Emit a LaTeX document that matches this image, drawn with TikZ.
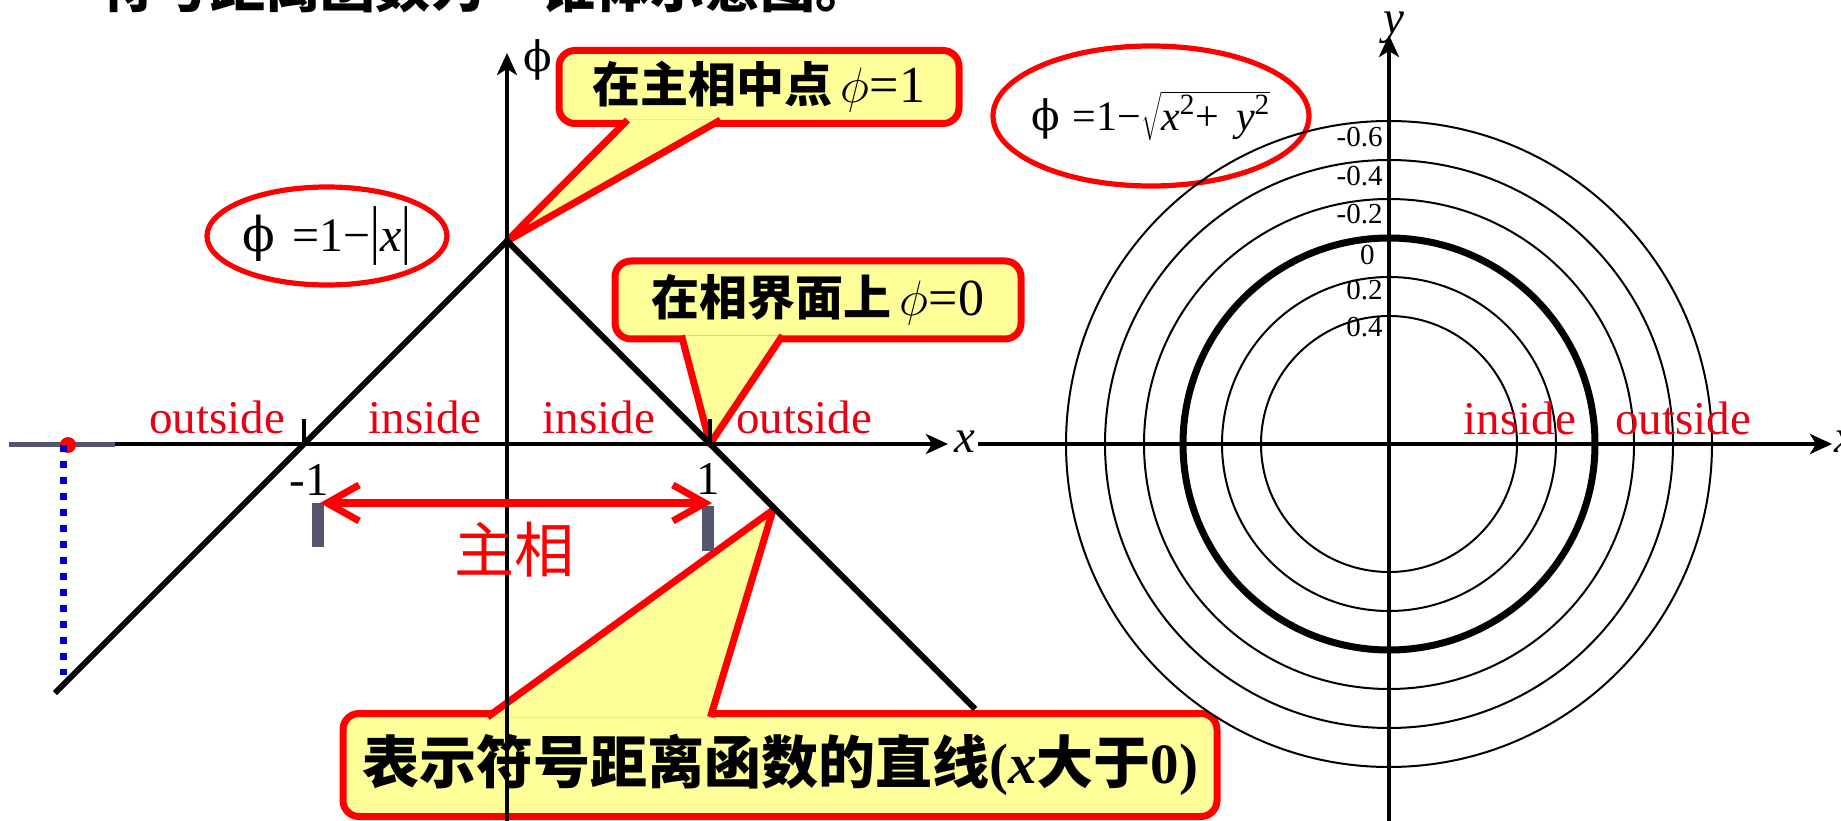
\documentclass[tikz,border=0pt]{standalone}
\usepackage{fontspec}
\usepackage{graphicx}
\setmainfont{Liberation Serif}
\newfontfamily\cjk{Noto Sans CJK SC}
\newfontfamily\grk{DejaVu Serif}
\usetikzlibrary{arrows.meta,positioning,calc}
\definecolor{sdfRed}{HTML}{FF0000}
\definecolor{sdfText}{HTML}{E60012}
\definecolor{sdfYellow}{HTML}{FFFF99}
\definecolor{sdfSlate}{HTML}{55556E}
\definecolor{sdfBlue}{HTML}{0000CC}
\newcommand{\fsz}[1]{\fontsize{#1}{#1}\selectfont}
\newcommand{\uphi}{{\grk ϕ}}
\tikzset{
  % Callout box: pale yellow with a heavy red rim.
  sdf/callout/.style={
    draw=sdfRed, fill=sdfYellow, line width=3.5pt, rounded corners=8pt,
    inner sep=0pt, align=center, text=black
  },
  % Callout pointer: only its two sides get stroked, the fill hides the rim.
  sdf/pointer/.style={
    draw=sdfRed, fill=sdfYellow, line width=3.5pt, line join=round
  },
  % Red ring round a formula.
  sdf/ring/.style={draw=sdfRed, line width=2.6pt},
  % inside / outside
  sdf/region/.style={text=sdfText, inner sep=0pt, font=\fsz{23.5pt}},
  % Axes.
  sdf/axis/.style={
    -{Stealth[length=11pt,width=10pt,inset=3pt]}, line width=2.2pt
  },
  sdf/level/.style={line width=1pt},
}

\begin{document}
\begin{tikzpicture}[x=0.5pt,y=0.5pt,
  lbl/.style={inner sep=0pt, anchor=east, font=\fsz{14.5pt}},
  txt/.style={inner sep=0pt, font=\fsz{23.5pt}},
  tick/.style={line width=2pt},
  bar/.style={draw=sdfSlate, line width=6pt}]
  \path[use as bounding box, clip] (0,0) rectangle (1841,820);

  % title, runs off the top edge
  \node[anchor=base west, inner sep=0pt, font=\cjk\bfseries\fsz{27.5pt}] (title) at (100,812)
       {符号距离函数为一锥体示意图。};

  % formulas in red rings
  \node[inner sep=0pt, font=\fsz{24pt}] (f1) at (327,584)
       {\uphi\hspace{0.35em}=1−\scalebox{1}[1.35]{|}\textit{x}\scalebox{1}[1.35]{|}};
  \draw[sdf/ring] (f1.center) ellipse[x radius=120, y radius=49];
  \node[inner sep=0pt, font=\fsz{21pt}] (f2) at (1151,704)
       {\uphi\hspace{0.3em}=1−$\sqrt{\mbox{\textit{x}\textsuperscript{2}+\hspace{0.4em}\textit{y}\textsuperscript{2}}}$};
  \draw[sdf/ring] (f2.center) ellipse[x radius=158, y radius=70];

  % callouts
  \node[sdf/callout, minimum width=200pt, minimum height=36.5pt, font=\fsz{24pt}] (c1) at (759,733)
       {{\cjk\bfseries 在主相中点}\,{\fsz{26pt}$\phi$=1}};
  \node[sdf/callout, minimum width=203pt, minimum height=39pt, font=\fsz{24pt}] (c2) at (818,520)
       {{\cjk\bfseries 在相界面上}\,{\fsz{26pt}$\phi$=0}};
  \node[sdf/callout, minimum width=437pt, minimum height=51.5pt, font=\bfseries\fsz{28.5pt}] (c3) at (780,55)
       {{\cjk 表示符号距离函数的直线}(\textit{x}{\cjk 大于}0)};
  \coordinate (apex) at (507,579);
  \coordinate (root) at (710,376);
  \coordinate (hit)  at (773,310);
  \filldraw[sdf/pointer] ($(c1.south west)+(72,7)$) -- (apex) -- ($(c1.south west)+(165,7)$);
  \filldraw[sdf/pointer] ($(c2.south west)+(70,7)$) -- (root) -- ($(c2.south west)+(171,7)$);
  \filldraw[sdf/pointer] ($(c3.north west)+(148,-7)$) -- (hit) -- ($(c3.north west)+(371,-7)$);

  % 1D: phi = 1 - |x|
  \coordinate (xl0) at (97,376);  \coordinate (xl1) at (948,376);
  \coordinate (pl0) at (507,-10); \coordinate (pl1) at (507,767);
  \coordinate (vl) at (55,127);   \coordinate (vr) at (975,111);
  \coordinate (mone) at (304,376);
  \draw[sdf/axis] (xl0) -- (xl1);
  \draw[sdf/axis] (pl0) -- (pl1);
  \node[txt] (xlab) at (965,378) {\textit{x}};
  \node[txt, font=\fsz{21pt}] (plab) at (538,760) {\uphi};
  \draw[line width=3pt] (vl) -- (apex) -- (vr);
  \draw[tick] (mone) -- ++(0,25);
  \draw[tick] (root) -- ++(0,25);
  \node[txt] (m1) at (309,340) {-1};
  \node[txt] (p1) at (708,341) {1};
  \draw[bar] (318,317) -- (318,273);
  \draw[bar] (708,314) -- (708,269);
  \draw[draw=sdfSlate, line width=2.5pt] (9,375) -- (115,375);
  \node[circle, fill=sdfRed, inner sep=0pt, minimum size=8pt] (dot) at (68,375) {};
  \coordinate (foot) at (63,145);
  \draw[sdfBlue, line width=3.5pt, dash pattern=on 3.5pt off 4.5pt] (dot.center -| foot) -- (foot);
  \coordinate (ph0) at (320,317); \coordinate (ph1) at (712,317);
  \draw[sdfRed, line width=3.5pt,
        {Straight Barb[length=16pt,width=18pt]}-{Straight Barb[length=16pt,width=18pt]}] (ph0) -- (ph1);
  \node[text=sdfRed, inner sep=0pt, font=\cjk\fsz{30pt}] (zx) at (514,270) {主相};
  \node[sdf/region] (out1) at (217,403) {outside};
  \node[sdf/region] (in1)  at (425,403) {inside};
  \node[sdf/region] (in2)  at (599,403) {inside};
  \node[sdf/region] (out2) at (804,403) {outside};

  % 2D: level circles of phi = 1 - sqrt(x^2+y^2)
  \coordinate (ro) at (1389,376);
  \foreach \r in {128,167,245,284,323}
    \draw[sdf/level] (ro) circle[radius=\r];
  \draw[line width=3.5pt] (ro) circle[radius=206];
  \coordinate (xr0) at (978,376);  \coordinate (xr1) at (1832,376);
  \coordinate (yr0) at (1389,-10); \coordinate (yr1) at (1389,785);
  \draw[sdf/axis] (xr0) -- (xr1);
  \draw[sdf/axis] (yr0) -- (yr1);
  \node[txt, anchor=west] (xlab2) at (1834,378) {\textit{x}};
  \node[txt] (ylab) at (1394,792) {\textit{y}};
  \foreach \v/\y [count=\i] in {-0.6/683,-0.4/644,-0.2/606,0.2/530,0.4/493}
    \node[lbl] (lev\i) at (1383,\y) {\v};
  \node[lbl] (lev0) at (1375,565) {0};
  \node[sdf/region] (in3)  at (1520,402) {inside};
  \node[sdf/region] (out3) at (1683,402) {outside};
\end{tikzpicture}
\end{document}
